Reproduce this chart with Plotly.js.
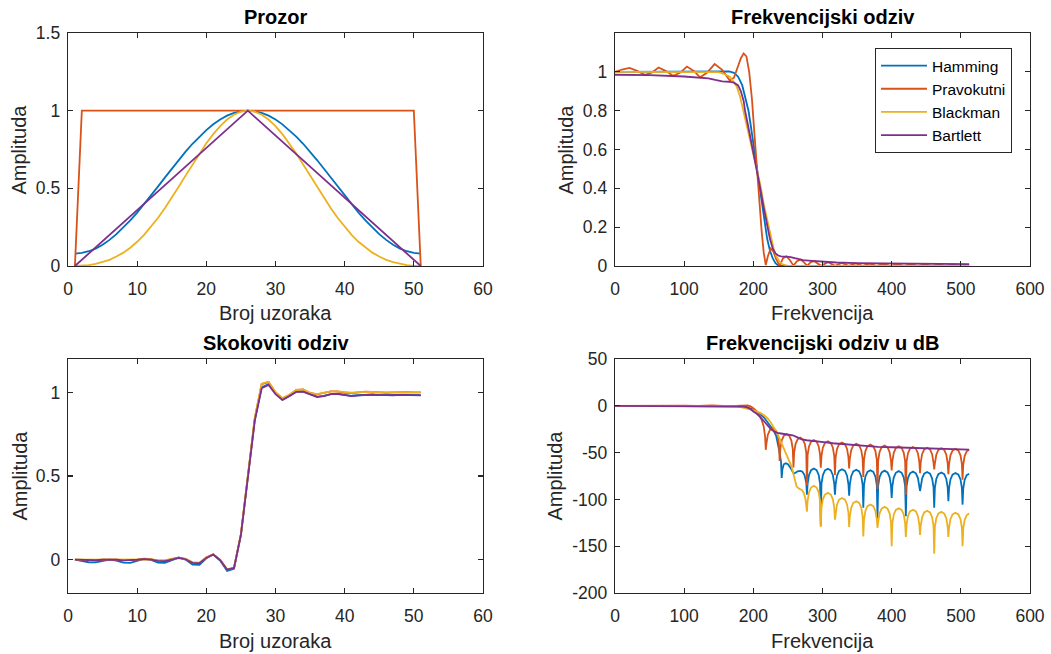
<!DOCTYPE html>
<html><head><meta charset="utf-8">
<script src="https://cdn.plot.ly/plotly-3.0.1.min.js"></script>
<style>html,body{margin:0;padding:0;background:#fff}#chart{width:1051px;height:654px}</style>
</head><body><div id="chart"></div>
<script>
// ---------- data ----------
const seriesNames = ['Hamming', 'Pravokutni', 'Blackman', 'Bartlett'];
const seriesColors = ['#0072BD', '#D95319', '#EDB120', '#7E2F8E'];

const sampleIdx = [1,2,3,4,5,6,7,8,9,10,11,12,13,14,15,16,17,18,19,20,21,22,23,24,25,26,27,28,29,30,31,32,33,34,35,36,37,38,39,40,41,42,43,44,45,46,47,48,49,50,51];

const winHamming = [0.080,0.084,0.095,0.112,0.137,0.168,0.205,0.247,0.294,0.344,0.398,0.454,0.511,0.569,0.626,0.682,0.736,0.787,0.833,0.875,0.912,0.943,0.968,0.986,0.996,1.000,0.996,0.986,0.968,0.943,0.912,0.875,0.833,0.787,0.736,0.682,0.626,0.569,0.511,0.454,0.398,0.344,0.294,0.247,0.205,0.168,0.137,0.112,0.095,0.084,0.080];
const winRect = [0,1,1,1,1,1,1,1,1,1,1,1,1,1,1,1,1,1,1,1,1,1,1,1,1,1,1,1,1,1,1,1,1,1,1,1,1,1,1,1,1,1,1,1,1,1,1,1,1,1,0];
const winBlackman = [0.000,0.001,0.006,0.013,0.025,0.040,0.061,0.086,0.118,0.156,0.201,0.252,0.309,0.372,0.439,0.510,0.582,0.654,0.724,0.790,0.849,0.901,0.943,0.974,0.994,1.000,0.994,0.974,0.943,0.901,0.849,0.790,0.724,0.654,0.582,0.510,0.439,0.372,0.309,0.252,0.201,0.156,0.118,0.086,0.061,0.040,0.025,0.013,0.006,0.001,0.000];
const winBartlett = [0,0.04,0.08,0.12,0.16,0.20,0.24,0.28,0.32,0.36,0.40,0.44,0.48,0.52,0.56,0.60,0.64,0.68,0.72,0.76,0.80,0.84,0.88,0.92,0.96,1.00,0.96,0.92,0.88,0.84,0.80,0.76,0.72,0.68,0.64,0.60,0.56,0.52,0.48,0.44,0.40,0.36,0.32,0.28,0.24,0.20,0.16,0.12,0.08,0.04,0];

const linHamX = [0,50,100,150,165,172,178,184,190,193,196,200,205,210,214,217,220,224,228,232,236,240,260,300,400,512];
const linHamY = [1.000,1.000,1.000,1.001,1.002,0.995,0.975,0.930,0.850,0.800,0.730,0.630,0.500,0.370,0.270,0.200,0.140,0.080,0.040,0.015,0.003,0.001,0.0005,0.0003,0.0002,0.0002];
const linRectX = [0,10,21,32,43,53,63,73,84,94,104,114,123,133,144,155,166,172,178,182,186,190,194,198,202,205,208,212,215,218,221,225,229,233,238,243,248,253,258,263,268,273,278,283,288,293,298,308,318,328,338,348,358,368,378,388,398,408,418,428,438,448,458,468,478,488,498,505,512];
const linRectY = [1.000,1.012,1.020,1.005,0.985,0.995,1.022,1.005,0.980,0.995,1.027,1.005,0.972,0.995,1.040,1.010,0.955,0.970,1.030,1.070,1.095,1.080,1.000,0.860,0.660,0.500,0.350,0.180,0.070,0.005,0.050,0.090,0.075,0.035,0.002,0.040,0.050,0.030,0.002,0.025,0.033,0.020,0.001,0.020,0.025,0.015,0.001,0.020,0.001,0.016,0.001,0.014,0.001,0.012,0.001,0.011,0.001,0.010,0.001,0.009,0.001,0.009,0.001,0.008,0.001,0.008,0.001,0.007,0.005];
const linBlackX = [0,100,140,150,157,166,176,181,185.5,190,195,200,205,210,215,218,222,226,230,234,238,242,246,250,260,512];
const linBlackY = [1.000,1.000,1.000,0.998,0.990,0.975,0.925,0.870,0.800,0.730,0.650,0.575,0.500,0.420,0.320,0.270,0.200,0.130,0.080,0.045,0.022,0.009,0.003,0.001,0.0002,0.0001];
const linBartX = [0,50,100,120,135,145,155,165,172,178,182,186,188,192,196,200,205,210,215,220,224,228,232,236,240,248,254,260,266,272,280,290,300,320,350,400,450,512];
const linBartY = [0.985,0.983,0.976,0.972,0.966,0.958,0.951,0.949,0.944,0.930,0.900,0.850,0.800,0.730,0.660,0.580,0.500,0.400,0.300,0.200,0.140,0.090,0.065,0.054,0.050,0.048,0.046,0.040,0.034,0.030,0.028,0.025,0.022,0.018,0.015,0.013,0.011,0.010];
const linTickVals = [0, 0.2, 0.4, 0.6, 0.8, 1];

const stepHam = [0.000,-0.008,-0.016,-0.017,-0.008,0.000,-0.006,-0.018,-0.020,-0.008,0.004,-0.002,-0.018,-0.020,-0.004,0.012,0.000,-0.030,-0.032,0.008,0.030,-0.006,-0.068,-0.055,0.150,0.500,0.835,1.030,1.050,0.995,0.955,0.980,1.005,1.005,0.990,0.975,0.980,0.990,0.990,0.985,0.980,0.983,0.986,0.986,0.984,0.983,0.984,0.985,0.985,0.984,0.984];
const stepRect = [0.000,-0.002,-0.004,-0.004,0.000,0.002,0.000,-0.004,-0.004,0.000,0.005,0.002,-0.008,-0.008,0.004,0.012,0.004,-0.020,-0.020,0.014,0.032,-0.002,-0.060,-0.050,0.150,0.505,0.845,1.050,1.062,1.000,0.965,0.985,1.015,1.018,0.997,0.988,0.995,1.006,1.006,0.998,0.996,1.000,1.004,1.003,0.999,0.998,1.000,1.002,1.001,1.000,1.000];
const stepBlack = [0.000,0.000,-0.001,-0.001,0.000,0.000,0.000,-0.002,-0.002,0.000,0.002,0.001,-0.004,-0.004,0.002,0.008,0.004,-0.015,-0.018,0.010,0.030,0.000,-0.058,-0.048,0.152,0.505,0.848,1.052,1.064,1.002,0.966,0.986,1.014,1.018,0.998,0.990,0.996,1.006,1.006,1.000,0.998,1.002,1.004,1.003,1.000,1.000,1.001,1.002,1.001,1.000,1.000];
const stepBart = [0.000,-0.002,-0.004,-0.004,-0.001,0.000,-0.001,-0.005,-0.005,-0.001,0.003,0.000,-0.008,-0.009,0.000,0.010,0.002,-0.020,-0.022,0.010,0.030,-0.004,-0.060,-0.050,0.148,0.500,0.830,1.025,1.045,0.990,0.955,0.978,1.003,1.005,0.988,0.972,0.978,0.990,0.992,0.985,0.978,0.982,0.987,0.988,0.985,0.982,0.983,0.985,0.985,0.983,0.982];

const dbHamX = [0,100,170,175,180,185,190,195,200,205,210,215,220,225,229,233,236,238,240,241,242,244,247,250,253,256,258.5,261,264,268,271,274,276.5,
277.5,278.5,280.5,283.5,287.5,291.5,294.5,296.5,
297.5,298.5,300.5,303.5,307.8,312,315,317,
318,319,321,324,328.2,332.5,335.5,337.5,
338.5,339.5,341.5,344.5,348.8,353,356,358,
359,360,362,365,369.2,373.5,376.5,378.5,
379.5,380.5,382.5,385.5,389.8,394,397,399,
400,401,403,406,410.2,414.5,417.5,419.5,
420.5,421.5,423.5,426.5,430.8,435,438,440,
441,442,444,447,451.2,455.5,458.5,460.5,
461.5,462.5,464.5,467.5,471.8,476,479,481,
482,483,485,488,492.2,496.5,499.5,501.5,
502.5,503.5,505.5,508.5,512];
const dbHamY = [0,0,0,-0.05,-0.25,-0.65,-1.4,-2.6,-4.1,-6,-8.7,-12.3,-17,-21.5,-26,-32,-42,-50,-60,-77,-68,-62.5,-61.5,-62.5,-65.5,-69.5,-72.5,-71.5,-70,-69.5,-70.5,-74,-82,
-95,-83,-73.9,-68.8,-67,-68.8,-73.9,-83,
-128,-83.3,-74.2,-69.1,-67.3,-69.1,-74.2,-83.3,
-95,-83.8,-74.7,-69.6,-67.8,-69.6,-74.7,-83.8,
-96,-84.3,-75.2,-70.1,-68.3,-70.1,-75.2,-84.3,
-109,-84.8,-75.7,-70.6,-68.8,-70.6,-75.7,-84.8,
-120,-85.3,-76.2,-71.1,-69.3,-71.1,-76.2,-85.3,
-98.5,-85.8,-76.7,-71.6,-69.8,-71.6,-76.7,-85.8,
-118,-86.3,-77.2,-72.1,-70.3,-72.1,-77.2,-86.3,
-91,-86.8,-77.7,-72.6,-70.8,-72.6,-77.7,-86.8,
-109,-87.3,-78.2,-73.1,-71.3,-73.1,-78.2,-87.3,
-102,-87.8,-78.7,-73.6,-71.8,-73.6,-78.7,-87.8,
-105.6,-88.3,-79.2,-74.1,-72.5];

const dbRectX = [0,20,40,60,80,100,120,140,165,178,186,192,196,200,205,208,212,215,217,
218,219,221,224,228,232,235,237,
238,239,241,244,248,252,255,257,
258,259,261,264,267.8,271.5,274.5,276.5,
277.5,278.5,280.5,283.5,287.5,291.5,294.5,296.5,
297.5,298.5,300.5,303.5,307.8,312,315,317,
318,319,321,324,328.2,332.5,335.5,337.5,
338.5,339.5,341.5,344.5,348.8,353,356,358,
359,360,362,365,369.2,373.5,376.5,378.5,
379.5,380.5,382.5,385.5,389.8,394,397,399,
400,401,403,406,410.2,414.5,417.5,419.5,
420.5,421.5,423.5,426.5,430.8,435,438,440,
441,442,444,447,451.2,455.5,458.5,460.5,
461.5,462.5,464.5,467.5,471.8,476,479,481,
482,483,485,488,492.2,496.5,499.5,501.5,
502.5,503.5,505.5,508.5,512];
const dbRectY = [0,0.15,-0.12,0.18,-0.18,0.2,-0.22,0.3,-0.4,0.3,0.75,0.3,-0.6,-2.5,-6,-9,-15,-22,-33,
-47,-40,-30.9,-25.8,-24,-25.8,-30.9,-40,
-59,-46.3,-37.2,-32.1,-30.3,-32.1,-37.2,-46.3,
-66,-50,-40.9,-35.8,-34,-35.8,-40.9,-50,
-85,-52.5,-43.4,-38.3,-36.5,-38.3,-43.4,-52.5,
-66,-53.8,-44.7,-39.6,-37.8,-39.6,-44.7,-53.8,
-74,-55.2,-46.1,-41,-39.2,-41,-46.1,-55.2,
-67,-56.5,-47.4,-42.3,-40.5,-42.3,-47.4,-56.5,
-76,-57.5,-48.4,-43.3,-41.5,-43.3,-48.4,-57.5,
-89,-58.5,-49.4,-44.3,-42.5,-44.3,-49.4,-58.5,
-69,-59.3,-50.2,-45.1,-43.3,-45.1,-50.2,-59.3,
-95,-60,-50.9,-45.8,-44,-45.8,-50.9,-60,
-72,-60.8,-51.7,-46.6,-44.8,-46.6,-51.7,-60.8,
-68,-61.4,-52.3,-47.2,-45.4,-47.2,-52.3,-61.4,
-73,-62,-52.9,-47.8,-46,-47.8,-52.9,-62,
-79,-62.8,-53.7,-48.6,-47];

const dbBlackX = [0,140,150,160,166,172,176,180,185,190,195,200,205,210,215,220,225,230,234,238,243,248,252,255.3,258,262.5,266,270,273,275.5,
277.5,278.5,280.5,283.5,287.5,291.5,294.5,296.5,
297.5,298.5,300.5,303.5,307.8,312,315,317,
318,319,321,324,328.2,332.5,335.5,337.5,
338.5,339.5,341.5,344.5,348.8,353,356,358,
359,360,362,365,369.2,373.5,376.5,378.5,
379.5,380.5,382.5,385.5,389.8,394,397,399,
400,401,403,406,410.2,414.5,417.5,419.5,
420.5,421.5,423.5,426.5,430.8,435,438,440,
441,442,444,447,451.2,455.5,458.5,460.5,
461.5,462.5,464.5,467.5,471.8,476,479,481,
482,483,485,488,492.2,496.5,499.5,501.5,
502.5,503.5,505.5,508.5,512];
const dbBlackY = [0,0,-0.02,-0.1,-0.22,-0.45,-0.7,-1.1,-1.8,-2.7,-3.7,-4.8,-6,-7.6,-9.8,-13,-17.5,-23,-28.5,-35,-43.6,-53,-60,-65,-73,-86,-88.5,-90,-93,-100,
-113,-101.5,-92.4,-87.3,-85.5,-87.3,-92.4,-101.5,
-129.5,-109,-99.9,-94.8,-93,-94.8,-99.9,-109,
-121.6,-114.5,-105.4,-100.3,-98.5,-100.3,-105.4,-114.5,
-129.5,-118,-108.9,-103.8,-102,-103.8,-108.9,-118,
-139.5,-121.5,-112.4,-107.3,-105.5,-107.3,-112.4,-121.5,
-130.5,-124,-114.9,-109.8,-108,-109.8,-114.9,-124,
-150,-125.5,-116.4,-111.3,-109.5,-111.3,-116.4,-125.5,
-140,-127,-117.9,-112.8,-111,-112.8,-117.9,-127,
-138,-128.2,-119.1,-114,-112.2,-114,-119.1,-128.2,
-158,-129.3,-120.2,-115.1,-113.3,-115.1,-120.2,-129.3,
-140,-130.2,-121.1,-116,-114.2,-116,-121.1,-130.2,
-150,-131,-121.9,-116.8,-115];

const dbBartX = [0,100,150,175,185,190,195,200,205,210,215,220,225,230,235,240,250,257,263,270,277,285,295,305,315,330,345,360,380,400,420,440,470,490,512];
const dbBartY = [-0.1,-0.2,-0.35,-0.45,-0.9,-1.5,-3,-6,-8.5,-12,-16.5,-21,-24.5,-27.3,-29,-29.6,-30.3,-31.5,-33.5,-35.8,-36.8,-37.2,-37.8,-39,-40,-41,-41.8,-42.8,-43.8,-44.3,-44.8,-45.3,-46,-46.4,-46.8];

const dbTickVals = [-200,-150,-100,-50,0,50];
const dbTickText = ['-200','-150','-100','-50','0','50'];

const panelTitles = ['Prozor', 'Frekvencijski odziv', 'Skokoviti odziv', 'Frekvencijski odziv u dB'];
const xLabels = ['Broj uzoraka', 'Frekvencija', 'Broj uzoraka', 'Frekvencija'];
const yLabel = 'Amplituda';

// ---------- traces ----------
const LW = 1.8;
const traces = [];
function addSet(xs, ys, xa, ya, legend) {
  for (let i = 0; i < 4; i++) {
    traces.push({
      x: xs[i], y: ys[i], xaxis: xa, yaxis: ya, type: 'scatter', mode: 'lines',
      name: seriesNames[i], showlegend: legend, hoverinfo: 'skip',
      line: {color: seriesColors[i], width: LW}
    });
  }
}
addSet([sampleIdx, sampleIdx, sampleIdx, sampleIdx], [winHamming, winRect, winBlackman, winBartlett], 'x', 'y', false);
addSet([linHamX, linRectX, linBlackX, linBartX], [linHamY, linRectY, linBlackY, linBartY], 'x2', 'y2', true);
addSet([sampleIdx, sampleIdx, sampleIdx, sampleIdx], [stepHam, stepRect, stepBlack, stepBart], 'x3', 'y3', false);
addSet([dbHamX, dbRectX, dbBlackX, dbBartX], [dbHamY, dbRectY, dbBlackY, dbBartY], 'x4', 'y4', false);

// ---------- layout ----------
const FONT = 'Liberation Sans, Arial, Helvetica, sans-serif';
const AX = '#262626';
function axis(domain, range, dtick, anchor, standoff, extra) {
  return Object.assign({
    domain: domain, range: range, dtick: dtick, tick0: 0, anchor: anchor,
    showline: true, mirror: 'ticks', linecolor: AX, linewidth: 1.3,
    ticks: 'inside', ticklen: 5, tickwidth: 1.2, tickcolor: AX,
    showgrid: false, zeroline: false, fixedrange: true,
    ticklabelstandoff: standoff,
    tickfont: {family: FONT, size: 17.5, color: AX}
  }, extra || {});
}
const W = 1051, H = 654;
const colL = [68 / W, 483 / W], colR = [615 / W, 1030 / W];
const rowT = [1 - 266 / H, 1 - 33 / H], rowB = [1 - 593 / H, 1 - 359 / H];

const annotations = [];
function ann(text, x, y, size, bold, angle, color) {
  annotations.push({
    text: text, xref: 'paper', yref: 'paper', x: x, y: y,
    xanchor: 'center', yanchor: 'middle', showarrow: false, textangle: angle || 0,
    font: {family: FONT, size: size, color: color, weight: bold ? 'bold' : 'normal'}
  });
}
const cx = [(colL[0] + colL[1]) / 2, (colR[0] + colR[1]) / 2];
ann(panelTitles[0], cx[0], 1 - 17.5 / H, 20, true, 0, '#000');
ann(panelTitles[1], cx[1], 1 - 17.5 / H, 20, true, 0, '#000');
ann(panelTitles[2], cx[0], 1 - 343 / H, 20, true, 0, '#000');
ann(panelTitles[3], cx[1], 1 - 343 / H, 20, true, 0, '#000');
ann(xLabels[0], cx[0], 1 - 313 / H, 20, false, 0, AX);
ann(xLabels[1], cx[1], 1 - 313 / H, 20, false, 0, AX);
ann(xLabels[2], cx[0], 1 - 641 / H, 20, false, 0, AX);
ann(xLabels[3], cx[1], 1 - 641 / H, 20, false, 0, AX);
ann(yLabel, 18.5 / W, 1 - 150 / H, 20, false, -90, AX);
ann(yLabel, 565.5 / W, 1 - 150 / H, 20, false, -90, AX);
ann(yLabel, 19.5 / W, 1 - 476 / H, 20, false, -90, AX);
ann(yLabel, 554.5 / W, 1 - 476 / H, 20, false, -90, AX);

const layout = {
  width: W, height: H,
  margin: {l: 0, r: 0, t: 0, b: 0, pad: 0},
  paper_bgcolor: '#fff', plot_bgcolor: '#fff',
  font: {family: FONT, color: AX},
  xaxis: axis(colL, [0, 60], 10, 'y', 7),
  yaxis: axis(rowT, [0, 1.5], 0.5, 'x', 3),
  xaxis2: axis(colR, [0, 600], 100, 'y2', 7),
  yaxis2: axis(rowT, [0, 1.2], 0.2, 'x2', 3, {tickmode: 'array', tickvals: linTickVals}),
  xaxis3: axis(colL, [0, 60], 10, 'y3', 7),
  yaxis3: axis(rowB, [-0.2, 1.2], 0.5, 'x3', 3),
  xaxis4: axis(colR, [0, 600], 100, 'y4', 7),
  yaxis4: axis(rowB, [-200, 50], 50, 'x4', 3, {tickmode: 'array', tickvals: dbTickVals, ticktext: dbTickText}),
  showlegend: true,
  legend: {
    x: 875 / W, y: 1 - 48 / H, xanchor: 'left', yanchor: 'top',
    bgcolor: '#fff', bordercolor: AX, borderwidth: 1,
    font: {family: FONT, size: 15.5, color: '#000'},
    itemwidth: 46, tracegroupgap: 0
  },
  annotations: annotations
};

Plotly.newPlot('chart', traces, layout, {staticPlot: true, displayModeBar: false});
</script>
</body></html>
